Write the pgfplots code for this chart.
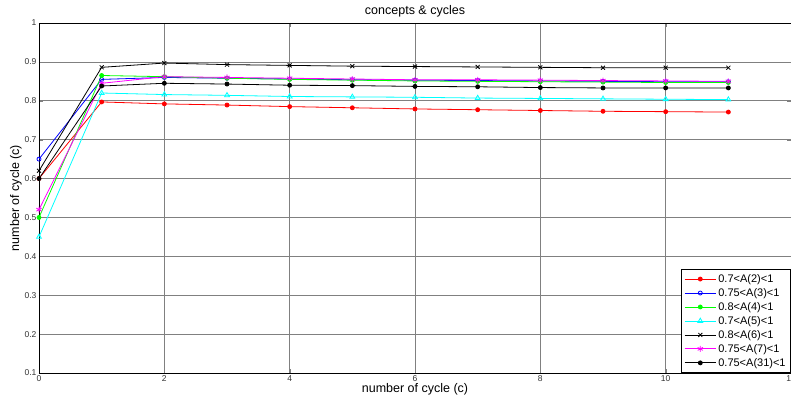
\documentclass[border=0pt]{standalone}
\usepackage{fontspec}
\setmainfont{Liberation Sans}
\usepackage{pgfplots}
\pgfplotsset{compat=1.18}
\definecolor{mcyan}{rgb}{0,1,1}
\definecolor{mmagenta}{rgb}{1,0,1}
\definecolor{mgreen}{rgb}{0,1,0}
\begin{document}
\begin{tikzpicture}
  \begin{axis}[
      scale only axis,
      width=752pt, height=350pt,
      xmin=0, xmax=12,
      ymin=0.1, ymax=1,
      xtick={0,2,...,12},
      ytick={0.1,0.2,...,1.0},
      yticklabel style={/pgf/number format/fixed, /pgf/number format/precision=1},
      /pgf/number format/assume math mode=true,
      tick label style={font=\fontsize{8.5}{10}\selectfont, text=black!80},
      xticklabel style={yshift=1pt},
      yticklabel style={xshift=1pt},
      tick align=inside,
      major tick length=4pt,
      xtick pos=both, ytick pos=both,
      grid=major,
      grid style={line width=0.7pt, black!50},
      axis line style={line width=0.8pt},
      title={concepts \& cycles},
      title style={font=\fontsize{12.5}{14}\selectfont, yshift=-4pt},
      xlabel={number of cycle (c)},
      ylabel={number of cycle (c)},
      label style={font=\fontsize{12.5}{14}\selectfont},
      xlabel style={yshift=5pt},
      ylabel style={yshift=-4pt},
      every axis plot/.append style={line width=0.8pt, mark size=2pt},
      legend style={at={(1,0)}, anchor=south east, font=\fontsize{11}{12}\selectfont,
        draw=black, line width=0.8pt, cells={anchor=west}, row sep=0.5pt,
        inner sep=3pt},
      legend cell align=left,
      legend image code/.code={%
        \draw[mark repeat=2, mark phase=2, line width=0.8pt]
          plot coordinates {(0cm,0cm) (0.55cm,0cm) (1.1cm,0cm)};},
    ]
    \addplot[color=red, mark=*, mark options={fill=red}] coordinates {
      (0,0.600) (1,0.797) (2,0.792) (3,0.789) (4,0.785) (5,0.782)
      (6,0.779) (7,0.777) (8,0.775) (9,0.773) (10,0.772) (11,0.771)
    };
    \addlegendentry{0.7<A(2)<1}
    \addplot[color=blue, mark=o] coordinates {
      (0,0.650) (1,0.855) (2,0.860) (3,0.858) (4,0.856) (5,0.854)
      (6,0.853) (7,0.852) (8,0.851) (9,0.850) (10,0.849) (11,0.849)
    };
    \addlegendentry{0.75<A(3)<1}
    \addplot[color=mgreen, mark=*, mark options={fill=mgreen}] coordinates {
      (0,0.500) (1,0.865) (2,0.862) (3,0.858) (4,0.855) (5,0.853)
      (6,0.851) (7,0.850) (8,0.849) (9,0.848) (10,0.847) (11,0.847)
    };
    \addlegendentry{0.8<A(4)<1}
    \addplot[color=mcyan, mark=triangle, mark size=2.8pt] coordinates {
      (0,0.450) (1,0.820) (2,0.816) (3,0.814) (4,0.811) (5,0.810)
      (6,0.809) (7,0.807) (8,0.806) (9,0.805) (10,0.804) (11,0.803)
    };
    \addlegendentry{0.7<A(5)<1}
    \addplot[color=black, mark=x, mark size=2.8pt] coordinates {
      (0,0.620) (1,0.886) (2,0.897) (3,0.893) (4,0.891) (5,0.889)
      (6,0.888) (7,0.887) (8,0.886) (9,0.885) (10,0.885) (11,0.885)
    };
    \addlegendentry{0.8<A(6)<1}
    \addplot[color=mmagenta, mark=asterisk, mark size=3pt] coordinates {
      (0,0.520) (1,0.845) (2,0.862) (3,0.860) (4,0.858) (5,0.856)
      (6,0.854) (7,0.854) (8,0.853) (9,0.852) (10,0.851) (11,0.850)
    };
    \addlegendentry{0.75<A(7)<1}
    \addplot[color=black, mark=*, mark options={fill=black}] coordinates {
      (0,0.600) (1,0.838) (2,0.845) (3,0.843) (4,0.840) (5,0.839)
      (6,0.837) (7,0.836) (8,0.834) (9,0.833) (10,0.833) (11,0.833)
    };
    \addlegendentry{0.75<A(31)<1}
  \end{axis}
  \pgfresetboundingbox
  \path[use as bounding box] ([xshift=-39pt,yshift=-29pt]current axis.south west)
    rectangle ([yshift=23pt]current axis.north east);
\end{tikzpicture}
\end{document}
